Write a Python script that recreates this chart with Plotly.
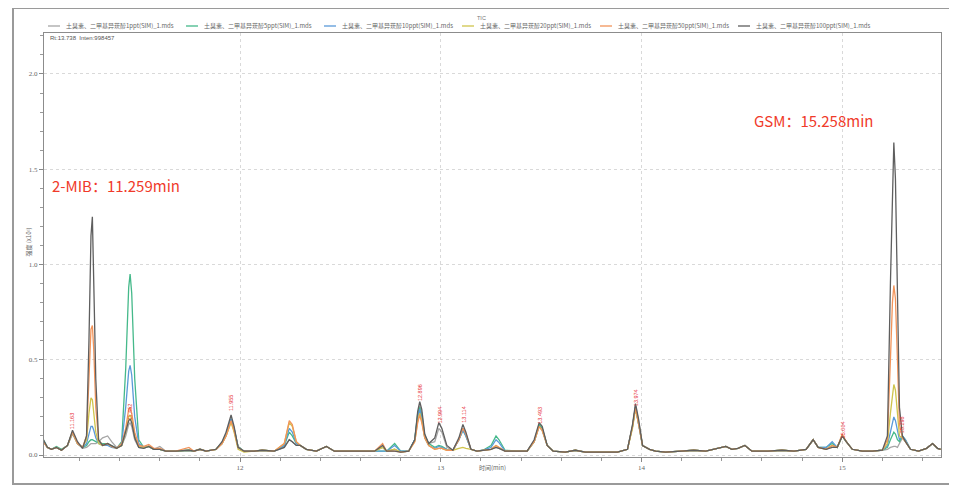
import plotly.graph_objects as go

# ---------------- data ----------------
T = [11.02, 11.04, 11.06, 11.085, 11.11, 11.14, 11.165, 11.19, 11.215,
     11.235, 11.247, 11.257, 11.264, 11.271, 11.281, 11.295, 11.315, 11.34, 11.36, 11.385,
     11.41, 11.43, 11.445, 11.452, 11.46, 11.475, 11.495, 11.52, 11.545, 11.57, 11.60,
     11.63, 11.68, 11.745, 11.77, 11.80, 11.83, 11.88, 11.91, 11.93, 11.955, 11.97, 11.99, 12.02,
     12.07, 12.11, 12.17, 12.22, 12.245, 12.26, 12.28, 12.30, 12.33, 12.38, 12.43, 12.47, 12.55, 12.62,
     12.67, 12.71, 12.73, 12.77, 12.80, 12.84, 12.87, 12.885, 12.895, 12.905, 12.92, 12.94, 12.97, 12.99, 13.005, 13.03, 13.06, 13.09, 13.11, 13.125, 13.15,
     13.18, 13.21, 13.25, 13.275, 13.29, 13.32, 13.38, 13.43, 13.465, 13.49, 13.505, 13.53, 13.56, 13.62, 13.67, 13.72, 13.80, 13.88, 13.93, 13.955, 13.97, 13.985, 14.005,
     14.04, 14.07, 14.12, 14.20, 14.26, 14.32, 14.38, 14.42, 14.45, 14.48, 14.515, 14.55, 14.63, 14.70, 14.76, 14.82, 14.855, 14.88, 14.92, 14.95, 14.975, 15.00, 15.02, 15.05, 15.10, 15.15, 15.20,
     15.225, 15.24, 15.25, 15.257, 15.265, 15.275, 15.285, 15.30, 15.315, 15.34, 15.38, 15.42, 15.45, 15.475, 15.49]

S1 = [.07, .04, .03, .04, .025, .05, .11, .06, .035,
      .04, .05, .06, .06, .06, .06, .07, .09, .10, .07, .04,
      .05, .10, .16, .17, .15, .08, .04, .035, .045, .03, .045,
      .02, .02, .025, .02, .03, .02, .03, .06, .10, .18, .13, .04, .02,
      .02, .025, .02, .04, .08, .07, .05, .05, .03, .02, .045, .02, .02, .02,
      .02, .04, .02, .03, .015, .02, .08, .20, .26, .22, .10, .06, .07, .14, .12, .04, .025, .08, .14, .11, .03,
      .02, .025, .03, .04, .035, .02, .02, .02, .07, .16, .14, .05, .02, .015, .025, .015, .015, .015, .03, .15, .26, .18, .05,
      .03, .02, .015, .02, .025, .02, .035, .045, .03, .035, .05, .02, .02, .025, .02, .03, .08, .04, .03, .05, .04, .10, .07, .03, .02, .02, .025,
      .03, .04, .045, .045, .045, .04, .06, .09, .07, .03, .02, .035, .06, .035, .03]

S5 = [.08, .04, .03, .045, .03, .05, .12, .06, .04,
      .05, .07, .08, .08, .075, .07, .065, .06, .06, .05, .035,
      .07, .45, .88, .95, .85, .40, .08, .04, .045, .03, .03,
      .02, .02, .025, .02, .03, .02, .03, .065, .11, .19, .14, .045, .02,
      .02, .025, .02, .05, .12, .10, .06, .05, .03, .02, .045, .02, .02, .02,
      .02, .02, .02, .06, .02, .02, .08, .22, .25, .20, .10, .06, .04, .05, .045, .03, .025, .08, .13, .10, .03,
      .02, .025, .05, .10, .08, .025, .02, .02, .07, .16, .14, .05, .02, .015, .025, .015, .015, .015, .03, .15, .25, .17, .05,
      .03, .02, .015, .02, .025, .02, .035, .045, .03, .035, .05, .02, .02, .025, .02, .03, .08, .04, .04, .06, .04, .10, .07, .03, .02, .02, .025,
      .04, .08, .11, .12, .11, .08, .07, .10, .08, .03, .02, .035, .06, .035, .03]

S10 = [.07, .04, .03, .04, .025, .05, .12, .06, .04,
       .06, .11, .15, .15, .13, .09, .06, .05, .05, .04, .035,
       .06, .25, .44, .47, .42, .20, .06, .04, .045, .03, .03,
       .02, .02, .025, .02, .03, .02, .03, .06, .11, .19, .14, .04, .02,
       .02, .025, .02, .05, .14, .12, .06, .05, .03, .02, .045, .02, .02, .02,
       .02, .02, .02, .05, .02, .02, .08, .20, .24, .19, .09, .05, .035, .045, .04, .03, .025, .08, .13, .10, .03,
       .02, .025, .04, .08, .065, .02, .02, .02, .07, .15, .13, .05, .02, .015, .025, .015, .015, .015, .03, .15, .25, .17, .05,
       .03, .02, .015, .02, .025, .02, .035, .045, .03, .035, .05, .02, .02, .025, .02, .03, .08, .04, .04, .07, .04, .10, .07, .03, .02, .02, .025,
       .05, .12, .18, .20, .18, .12, .08, .10, .08, .03, .02, .035, .06, .035, .03]

S20 = [.07, .04, .03, .04, .025, .05, .12, .06, .04,
       .08, .22, .30, .29, .22, .12, .06, .05, .06, .045, .035,
       .05, .12, .20, .21, .19, .10, .045, .04, .045, .03, .03,
       .02, .02, .025, .02, .03, .02, .03, .06, .10, .17, .12, .03, .015,
       .02, .025, .02, .06, .17, .15, .07, .05, .03, .02, .045, .02, .02, .02,
       .02, .04, .02, .03, .015, .02, .07, .18, .22, .18, .09, .05, .03, .035, .035, .025, .025, .035, .04, .035, .03,
       .02, .025, .03, .05, .04, .02, .02, .02, .07, .15, .13, .05, .02, .015, .025, .015, .015, .015, .03, .14, .24, .17, .05,
       .03, .02, .015, .02, .025, .02, .035, .045, .03, .035, .05, .02, .02, .025, .02, .03, .08, .04, .03, .05, .04, .10, .07, .03, .02, .02, .025,
       .06, .22, .33, .37, .34, .22, .10, .09, .07, .03, .02, .035, .06, .035, .03]

S50 = [.07, .04, .03, .04, .025, .05, .12, .06, .04,
       .10, .40, .66, .68, .55, .25, .08, .05, .06, .045, .035,
       .06, .14, .24, .25, .22, .12, .05, .045, .055, .035, .035,
       .02, .02, .04, .02, .03, .02, .03, .06, .10, .18, .13, .04, .02,
       .02, .025, .02, .06, .18, .16, .07, .05, .03, .02, .045, .02, .02, .02,
       .02, .06, .02, .02, .015, .02, .07, .17, .21, .17, .09, .05, .03, .035, .035, .025, .025, .08, .14, .11, .03,
       .02, .025, .03, .05, .04, .02, .02, .02, .07, .15, .13, .05, .02, .015, .025, .015, .015, .015, .03, .15, .25, .17, .05,
       .03, .02, .015, .02, .025, .02, .035, .045, .03, .035, .05, .02, .02, .025, .02, .03, .08, .04, .03, .05, .04, .11, .07, .03, .02, .02, .025,
       .08, .50, .80, .89, .82, .50, .16, .09, .07, .03, .02, .035, .06, .035, .03]

S100 = [.08, .04, .03, .04, .025, .05, .13, .07, .035,
        .10, .60, 1.15, 1.25, .95, .40, .08, .05, .06, .05, .035,
        .05, .12, .18, .19, .17, .09, .04, .035, .045, .03, .03,
        .02, .02, .025, .02, .03, .02, .03, .07, .12, .21, .15, .04, .02,
        .02, .025, .02, .04, .08, .07, .05, .05, .03, .02, .045, .02, .02, .02,
        .02, .05, .02, .02, .015, .02, .08, .23, .28, .24, .11, .06, .09, .17, .14, .05, .025, .09, .16, .12, .03,
        .02, .025, .03, .04, .035, .02, .02, .02, .08, .17, .15, .05, .02, .015, .025, .015, .015, .015, .03, .16, .27, .19, .05,
        .03, .02, .015, .02, .025, .02, .035, .045, .03, .035, .05, .02, .02, .025, .02, .03, .08, .04, .03, .04, .04, .10, .07, .03, .02, .02, .025,
        .10, .90, 1.45, 1.64, 1.45, .85, .25, .10, .07, .03, .02, .035, .06, .035, .03]

series_names = ["土臭素、二甲基异莰醇1ppt(SIM)_1.mds", "土臭素、二甲基异莰醇5ppt(SIM)_1.mds",
                "土臭素、二甲基异莰醇10ppt(SIM)_1.mds", "土臭素、二甲基异莰醇20ppt(SIM)_1.mds",
                "土臭素、二甲基异莰醇50ppt(SIM)_1.mds", "土臭素、二甲基异莰醇100ppt(SIM)_1.mds"]
series_values = [S1, S5, S10, S20, S50, S100]
series_colors = ["#a6a6a6", "#45b98a", "#5a9ad8", "#cfc44c", "#f2945a", "#5e5e5e"]

peak_times = [11.163, 11.452, 11.955, 12.896, 12.994, 13.114, 13.493, 13.974, 15.004, 15.298]
peak_labels = ["11.163", "11.452", "11.955", "12.896", "12.994", "13.114", "13.493", "13.974", "15.004", "15.298"]
peak_label_y = [0.178, 0.226, 0.273, 0.33, 0.21, 0.21, 0.21, 0.30, 0.13, 0.157]

x_ticks = [12, 13, 14, 15]
y_ticks = [0.0, 0.5, 1.0, 1.5, 2.0]

# ---------------- layout helpers ----------------
# The page body has an 8px margin, so the figure is offset by 8px; all
# positions below are given in screen pixels and converted.
OFF = 8
W, H = 957 - OFF, 490 - OFF
SL, SR, ST, SB = 44, 941, 33, 457   # plot area in screen pixels


def px(x):
    return (x - SL) / (SR - SL)


def py(y):
    return (SB - y) / (SB - ST)


fig = go.Figure()
for i in range(6):
    fig.add_trace(go.Scatter(x=T, y=series_values[i], mode="lines", name=series_names[i],
                             line=dict(color=series_colors[i], width=1.3), showlegend=False,
                             hoverinfo="skip"))

shapes = []
annos = []
# outer frame of the screenshot
shapes.append(dict(type="rect", xref="paper", yref="paper",
                   x0=px(13), y0=py(484), x1=px(950), y1=py(8),
                   line=dict(color="#9a9a9a", width=2)))
# manual legend
for i, name in enumerate(series_names):
    x0 = 48 + 138 * i
    shapes.append(dict(type="line", xref="paper", yref="paper", x0=px(x0), x1=px(x0 + 12),
                       y0=py(26), y1=py(26), line=dict(color=series_colors[i], width=1.3)))
    annos.append(dict(xref="paper", yref="paper", x=px(x0 + 16), y=py(26), text=name,
                      showarrow=False, xanchor="left", yanchor="middle",
                      font=dict(family="Noto Sans CJK SC", size=6, color="#666")))

annos.append(dict(xref="paper", yref="paper", x=px(481), y=py(13), text="TIC", showarrow=False,
                  font=dict(family="Liberation Sans", size=5.5, color="#777")))
annos.append(dict(xref="paper", yref="paper", x=px(48), y=py(38), text="Rt:13.738  Inten:998457",
                  showarrow=False, xanchor="left", yanchor="middle",
                  font=dict(family="Liberation Sans", size=6, color="#555")))
annos.append(dict(xref="paper", yref="paper", x=px(21), y=py(242), text="强度 (x10⁶)", showarrow=False,
                  textangle=-90, font=dict(family="Noto Sans CJK SC", size=6, color="#666")))
annos.append(dict(xref="paper", yref="paper", x=px(492), y=py(474), text="时间(min)", showarrow=False,
                  font=dict(family="Noto Sans CJK SC", size=6, color="#666")))
annos.append(dict(xref="paper", yref="paper", x=px(50), y=py(185), text="2-MIB：11.259min",
                  showarrow=False, xanchor="left", yanchor="middle",
                  font=dict(family="Noto Sans CJK SC", size=15, color="#f03a2a")))
annos.append(dict(xref="paper", yref="paper", x=px(752), y=py(120), text="GSM：15.258min",
                  showarrow=False, xanchor="left", yanchor="middle",
                  font=dict(family="Noto Sans CJK SC", size=15, color="#f03a2a")))
for t, lab, yy in zip(peak_times, peak_labels, peak_label_y):
    annos.append(dict(x=t, y=yy, text=lab, showarrow=False, textangle=-90,
                      xanchor="center", yanchor="middle",
                      font=dict(family="Liberation Sans", size=5.5, color="#e8333a")))

fig.update_layout(
    width=W, height=H,
    margin=dict(l=SL - OFF, r=W - (SR - OFF), t=ST - OFF, b=H - (SB - OFF), pad=0, autoexpand=False),
    paper_bgcolor="white", plot_bgcolor="white",
    shapes=shapes, annotations=annos, showlegend=False,
    xaxis=dict(range=[11.023, 15.492], tickvals=x_ticks, ticktext=[str(v) for v in x_ticks],
               ticks="outside", ticklen=4, tickcolor="#888",
               minor=dict(dtick=0.2, tick0=11.0, ticks="outside", ticklen=3, tickcolor="#999", showgrid=False),
               showgrid=True, gridcolor="#d9d9d9", griddash="dot", gridwidth=1,
               showline=True, linecolor="#8c8c8c", linewidth=1, mirror=True, zeroline=False,
               tickfont=dict(family="Liberation Serif", size=7, color="#666")),
    yaxis=dict(range=[-0.0105, 2.215], tickvals=y_ticks, ticktext=[f"{v:.1f}" for v in y_ticks],
               ticks="outside", ticklen=4, tickcolor="#888",
               minor=dict(dtick=0.1, tick0=0, ticks="outside", ticklen=3, tickcolor="#999", showgrid=False),
               showgrid=True, gridcolor="#d9d9d9", griddash="dot", gridwidth=1,
               showline=True, linecolor="#8c8c8c", linewidth=1, mirror=True, zeroline=False,
               tickfont=dict(family="Liberation Serif", size=7, color="#666")),
)

assert all(len(s) == len(T) for s in series_values)
fig.write_html("out.html")
